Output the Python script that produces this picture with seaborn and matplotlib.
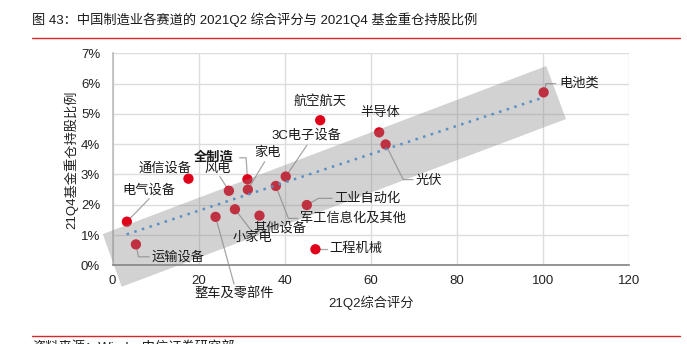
import matplotlib
matplotlib.use("Agg")
import matplotlib.pyplot as plt
import seaborn as sns
import pandas as pd
from matplotlib.lines import Line2D
from matplotlib.patches import Polygon

sns.set_theme(style="white")
plt.rcParams['font.family'] = ['Liberation Sans', 'Noto Sans CJK SC', 'DejaVu Sans']
plt.rcParams['axes.unicode_minus'] = False

# ---- data ----
names = ["电池类", "半导体", "光伏", "航空航天", "3C电子设备", "全制造", "家电", "风电",
         "军工信息化及其他", "工业自动化", "其他设备", "小家电", "整车及零部件",
         "通信设备", "电气设备", "运输设备", "工程机械"]
score = [100.1, 61.9, 63.4, 48.2, 40.2, 31.3, 31.4, 27.0,
         37.9, 45.1, 34.1, 28.4, 23.9, 17.6, 3.3, 5.4, 47.1]
holding = [5.71, 4.39, 3.99, 4.79, 2.93, 2.84, 2.50, 2.46,
           2.62, 1.99, 1.64, 1.85, 1.60, 2.86, 1.44, 0.69, 0.53]

# label positions (text anchor) and leader paths
label_pos = {
    "电池类": (103.7, 6.0, "left"),
    "半导体": (62.1, 5.04, "center"),
    "光伏": (70.4, 2.78, "left"),
    "航空航天": (48.2, 5.40, "center"),
    "3C电子设备": (45.1, 4.28, "center"),
    "全制造": (23.4, 3.56, "center"),
    "家电": (35.9, 3.72, "center"),
    "风电": (24.5, 3.20, "center"),
    "军工信息化及其他": (43.5, 1.55, "left"),
    "工业自动化": (51.6, 2.21, "left"),
    "其他设备": (38.9, 1.22, "center"),
    "小家电": (32.5, 0.89, "center"),
    "整车及零部件": (28.2, -0.92, "center"),
    "通信设备": (12.1, 3.20, "center"),
    "电气设备": (8.5, 2.46, "center"),
    "运输设备": (9.1, 0.26, "left"),
    "工程机械": (50.3, 0.53, "left"),
}
leaders = {
    "电池类": [(100.4, 5.71), (100.6, 6.0), (102.9, 6.0)],
    "光伏": [(63.4, 3.99), (67.5, 2.83), (69.8, 2.83)],
    "3C电子设备": [(40.2, 2.93), (45.1, 3.96)],
    "全制造": [(31.3, 2.84), (31.0, 3.55), (29.5, 3.55)],
    "家电": [(31.4, 2.50), (35.3, 3.42)],
    "风电": [(27.0, 2.46), (24.9, 2.93)],
    "军工信息化及其他": [(37.9, 2.62), (40.8, 1.55), (43.0, 1.55)],
    "工业自动化": [(45.1, 1.99), (47.8, 2.21), (51.0, 2.21)],
    "小家电": [(28.4, 1.85), (32.3, 1.13)],
    "整车及零部件": [(23.9, 1.60), (28.2, -0.62)],
    "电气设备": [(3.3, 1.44), (8.5, 2.20)],
    "运输设备": [(5.4, 0.69), (6.0, 0.28), (8.5, 0.28)],
    "工程机械": [(47.1, 0.53), (49.8, 0.53)],
}

trend_x = [3.25, 100.1]
trend_slope = 0.0467
trend_intercept = 0.87

band_x = [-2.3, 100.7, 105.3, 2.1]
band_y = [1.03, 6.58, 4.83, -0.71]

xticks = [0, 20, 40, 60, 80, 100, 120]
yticks = [0, 1, 2, 3, 4, 5, 6, 7]

df = pd.DataFrame({"name": names, "score": score, "holding": holding})
tdf = pd.DataFrame({"x": trend_x, "y": [trend_intercept + trend_slope * v for v in trend_x]})

# ---- figure ----
fig = plt.figure(figsize=(6.87, 3.44), dpi=100)
ax = fig.add_axes([0.164, 0.2288, 0.752, 0.6162])

ax.set_xlim(0, 120)
ax.set_ylim(0, 7)
ax.set_xticks(xticks)
ax.set_yticks(yticks)
ax.set_yticklabels([f"{v}%" for v in yticks])
ax.grid(True, color="#dcdcdc", linewidth=1.0, zorder=0)
ax.set_axisbelow(True)
for s in ["top", "right"]:
    ax.spines[s].set_visible(False)
ax.spines["left"].set_color("#bfbfbf")
ax.spines["bottom"].set_color("#888888")
ax.tick_params(axis="both", labelsize=9.5, colors="#222222", length=4, width=0.8,
               direction="out")
ax.tick_params(axis="x", color="#888888", pad=3)
ax.tick_params(axis="y", color="#888888", length=4, pad=5)

sns.scatterplot(data=df, x="score", y="holding", ax=ax, color="#e00019", s=55,
                edgecolor="none", zorder=3, legend=False)

band = Polygon(list(zip(band_x, band_y)), closed=True, facecolor=(135/255, 135/255, 135/255),
               alpha=0.37, edgecolor="none", zorder=4, clip_on=False)
ax.add_patch(band)

sns.lineplot(data=tdf, x="x", y="y", ax=ax, color="#5b8fc4", linewidth=1.8,
             linestyle=(0, (1, 2.2)), zorder=5)

for nm, pts in leaders.items():
    xs = [p[0] for p in pts]
    ys = [p[1] for p in pts]
    ax.add_line(Line2D(xs, ys, color="#a6a6a6", linewidth=0.9, zorder=2.5, clip_on=False))

for nm, (tx, ty, ha) in label_pos.items():
    ax.text(tx, ty, nm, ha=ha, va="center", fontsize=9.5, color="#1a1a1a",
            fontweight="bold" if nm == "全制造" else "normal", zorder=6, clip_on=False)

ax.set_xlabel("21Q2综合评分", fontsize=9.5, color="#222222")
ax.set_ylabel("21Q4基金重仓持股比例", fontsize=9.5, color="#222222")
ax.xaxis.set_label_coords(0.5, -0.14)
ax.yaxis.set_label_coords(-0.067, 0.5)

# title and frame lines
fig.text(32 / 687, 1 - 20 / 344, "图 43：中国制造业各赛道的 2021Q2 综合评分与 2021Q4 基金重仓持股比例",
         fontsize=9.5, va="center", ha="left", color="#1a1a1a")
fig.add_artist(Line2D([32 / 687, 680 / 687], [1 - 38 / 344, 1 - 38 / 344],
                      color="#d9262c", linewidth=1.0))
fig.add_artist(Line2D([32 / 687, 680 / 687], [1 - 336 / 344, 1 - 336 / 344],
                      color="#d9262c", linewidth=1.0))
fig.text(32 / 687, 1 - 348 / 344, "资料来源：Wind，中信证券研究部", fontsize=9.5,
         va="center", ha="left", color="#1a1a1a")

fig.savefig("out.png", dpi=100)
